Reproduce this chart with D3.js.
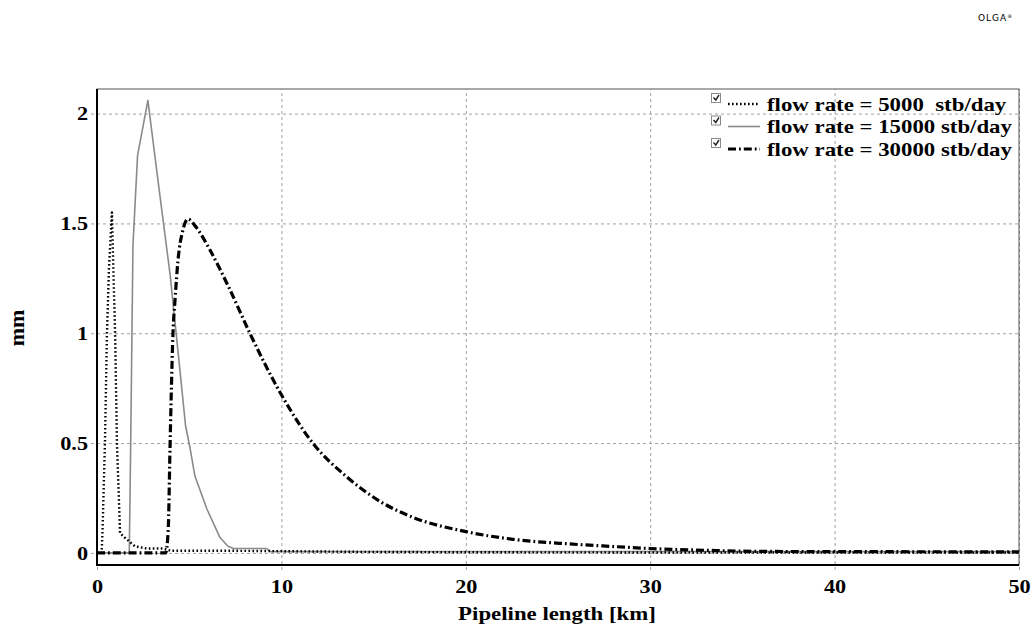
<!DOCTYPE html>
<html>
<head>
<meta charset="utf-8">
<script src="https://cdn.jsdelivr.net/npm/d3@7"></script>
<style>
  body { margin: 0; background: #ffffff; }
  text { font-family: 'Liberation Serif', 'Times New Roman', serif; font-weight: bold; fill: #000; }
</style>
</head>
<body>
<script>
// values: [km, mm]
const flow5000 = [
  [0, 0], [0.25, 0], [0.3, 0.1], [0.43, 0.5], [0.54, 1.0], [0.65, 1.3], [0.81, 1.55],
  [0.9, 1.25], [0.98, 1.0], [1.08, 0.5], [1.25, 0.09], [1.5, 0.07], [2.06, 0.03],
  [2.7, 0.02], [3.6, 0.02], [4.0, 0.01], [7, 0.01], [10, 0.008], [14, 0.005],
  [20, 0.003], [30, 0.002], [50, 0.002],
];
const flow15000 = [
  [0, 0], [1.75, 0], [1.82, 0.45], [1.95, 1.4], [2.2, 1.81], [2.76, 2.06], [3.3, 1.7],
  [3.96, 1.27], [4.5, 0.83], [4.8, 0.58], [5.04, 0.48], [5.31, 0.35], [5.96, 0.2],
  [6.67, 0.07], [7.1, 0.03], [7.4, 0.02], [9.2, 0.02], [9.4, 0.006], [20, 0.006], [50, 0.006],
];
const flow30000 = [
  [0, 0], [3.72, 0], [3.86, 0.1], [3.96, 0.48], [4.02, 0.7], [4.12, 1.0], [4.23, 1.15],
  [4.39, 1.33], [4.66, 1.47], [4.93, 1.52], [5.31, 1.49], [6.12, 1.38], [7.2, 1.2],
  [8.29, 1.0], [10, 0.72], [11.7, 0.5], [13.55, 0.346], [15.34, 0.235], [17.1, 0.163],
  [19.95, 0.098], [22.55, 0.062], [25.6, 0.041], [27.6, 0.031], [30, 0.02], [33, 0.012],
  [36, 0.007], [40, 0.006], [50, 0.005],
];
const legendLabels = ['flow rate = 5000  stb/day', 'flow rate = 15000 stb/day', 'flow rate = 30000 stb/day'];
const xTicks = [0, 10, 20, 30, 40, 50];
const yTicks = [0, 0.5, 1, 1.5, 2];

const width = 1032;
const height = 627;
const plot = {left: 97, right: 1019, top: 89, bottom: 565};
const stretch = 1.17; // the source picture is wider than it is tall

const styles = [
  {stroke: '#000', width: 2.4, dash: '1.6,2.4', cap: 'butt', curve: d3.curveLinear},
  {stroke: '#8a8a8a', width: 1.6, dash: null, cap: 'butt', curve: d3.curveLinear},
  {stroke: '#000', width: 3.2, dash: '8,3,1.8,3', cap: 'butt', curve: d3.curveMonotoneX},
];

const x = d3.scaleLinear().domain([0, 50]).range([plot.left, plot.right]);
const y = d3.scaleLinear().domain([-0.055, 2.112]).range([plot.bottom, plot.top]);

const svg = d3.select('body').append('svg')
  .attr('width', width)
  .attr('height', height)
  .style('background-color', '#ffffff');

// grid via axes with long ticks
const gx = svg.append('g')
  .attr('transform', `translate(0,${plot.bottom + 5})`)
  .call(d3.axisBottom(x).tickValues(xTicks).tickFormat(d3.format('d'))
    .tickSizeInner(-(plot.bottom + 5 - plot.top)).tickSizeOuter(0).tickPadding(10));

const gy = svg.append('g')
  .attr('transform', `translate(${plot.left - 6},0)`)
  .call(d3.axisLeft(y).tickValues(yTicks).tickFormat((d) => String(d))
    .tickSizeInner(-(plot.right - plot.left + 6)).tickSizeOuter(0).tickPadding(3));

[gx, gy].forEach((g) => {
  g.select('.domain').remove();
  g.selectAll('.tick line')
    .attr('stroke', '#a0a0a0')
    .attr('stroke-dasharray', '3,3');
  g.selectAll('.tick text')
    .attr('class', 'wide')
    .style('font-size', '19px')
    .style('font-family', "'Liberation Serif', serif")
    .style('font-weight', 'bold')
    .attr('fill', '#000');
});

// frame
svg.append('rect')
  .attr('x', plot.left).attr('y', plot.top)
  .attr('width', plot.right - plot.left).attr('height', plot.bottom - plot.top)
  .attr('fill', 'none')
  .attr('stroke', '#555')
  .attr('stroke-width', 1);
svg.append('path')
  .attr('d', `M${plot.left},${plot.top} V${plot.bottom} H${plot.right}`)
  .attr('fill', 'none')
  .attr('stroke', '#000')
  .attr('stroke-width', 2);

svg.append('clipPath').attr('id', 'clip')
  .append('rect')
  .attr('x', plot.left).attr('y', plot.top)
  .attr('width', plot.right - plot.left).attr('height', plot.bottom - plot.top);

const series = [flow5000, flow15000, flow30000];
const drawOrder = [1, 2, 0];

svg.append('g').attr('clip-path', 'url(#clip)')
  .selectAll('path')
  .data(drawOrder)
  .join('path')
  .attr('d', (i) => d3.line().curve(styles[i].curve).x((d) => x(d[0])).y((d) => y(d[1]))(series[i]))
  .attr('fill', 'none')
  .attr('stroke', (i) => styles[i].stroke)
  .attr('stroke-width', (i) => styles[i].width)
  .attr('stroke-dasharray', (i) => styles[i].dash)
  .attr('stroke-linecap', (i) => styles[i].cap)
  .attr('stroke-linejoin', 'round');

// legend
const legend = svg.append('g');
legendLabels.forEach((label, i) => {
  const cy = 104 + i * 22.5;
  const row = legend.append('g');
  row.append('rect')
    .attr('x', 711.5).attr('y', cy - 10.5)
    .attr('width', 9).attr('height', 9)
    .attr('fill', '#fff')
    .attr('stroke', '#8a8a8a');
  row.append('path')
    .attr('d', `M713.5,${cy - 6.5} L715.8,${cy - 4} L719,${cy - 9}`)
    .attr('fill', 'none')
    .attr('stroke', '#222')
    .attr('stroke-width', 1.4);
  row.append('line')
    .attr('x1', 728).attr('x2', 760)
    .attr('y1', cy).attr('y2', cy)
    .attr('stroke', styles[i].stroke)
    .attr('stroke-width', styles[i].width)
    .attr('stroke-dasharray', styles[i].dash)
    .attr('stroke-linecap', styles[i].cap);
  row.append('text')
    .attr('class', 'wide')
    .attr('x', 767).attr('y', cy + 6.5)
    .style('font-size', '19.5px')
    .style('white-space', 'pre')
    .text(label);
});

// axis titles
svg.append('text')
  .attr('class', 'wide')
  .attr('x', 557).attr('y', 620)
  .attr('text-anchor', 'middle')
  .style('font-size', '19.5px')
  .text('Pipeline length [km]');

svg.append('text')
  .attr('transform', 'translate(24,328) rotate(-90)')
  .attr('text-anchor', 'middle')
  .style('font-size', '22px')
  .text('mm');

// logo in the corner
svg.append('text')
  .attr('x', 978).attr('y', 21)
  .style('font-family', "'DejaVu Sans', sans-serif")
  .style('font-weight', 'normal')
  .style('font-size', '9px')
  .style('letter-spacing', '1px')
  .attr('fill', '#9a9a9a')
  .text('OLGA')
  .append('tspan')
  .attr('dy', -3)
  .style('font-size', '5px')
  .text('®');

// stretch text horizontally like the source
svg.selectAll('text.wide').each(function() {
  const w = this.getComputedTextLength();
  d3.select(this)
    .attr('textLength', w * stretch)
    .attr('lengthAdjust', 'spacingAndGlyphs');
});
</script>
</body>
</html>
